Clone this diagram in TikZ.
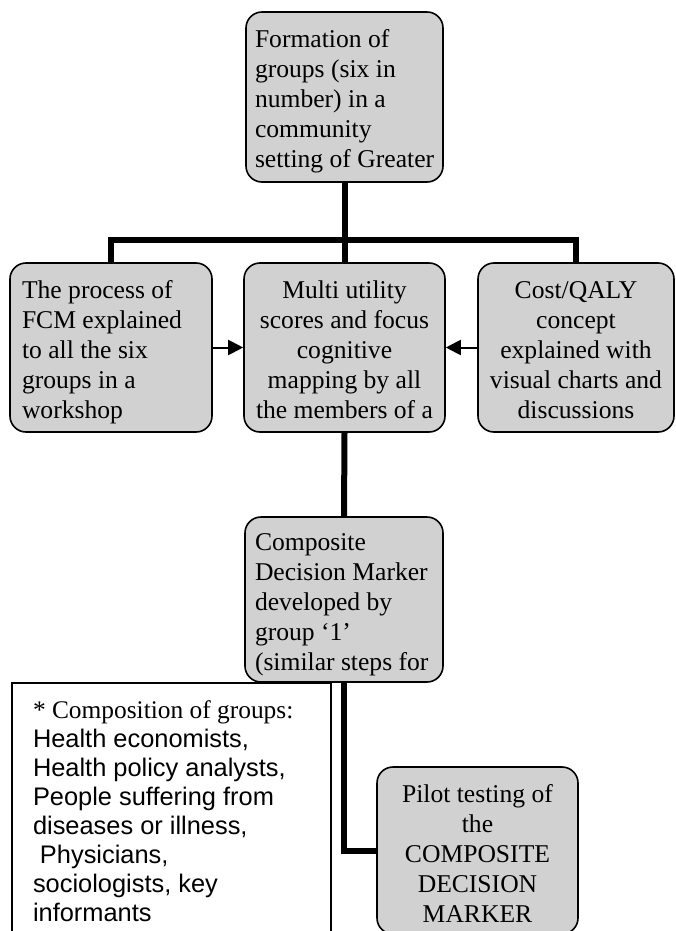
\documentclass[tikz,border=0pt]{standalone}
\usepackage{fontspec}
\setmainfont{Liberation Serif}
\newfontfamily\arialfont{Liberation Sans}
\usetikzlibrary{arrows.meta}
\definecolor{boxgray}{gray}{0.82}
\newcommand\btext[4]{\parbox[c][#1][t]{#2}{#3#4}}
\newcommand\lft[2]{\leftskip=#1\rightskip=0pt plus 1fil\relax\rule{0pt}{#2}}
\newcommand\ctr[1]{\centering\rule{0pt}{#1}}
\begin{document}
\begin{tikzpicture}[x=1pt,y=-1pt,
  stage/.style={draw=black, line width=1.6pt, rounded corners=16pt, fill=boxgray, inner sep=0pt, font=\fontsize{25.6}{30}\selectfont},
  conn/.style={line width=6pt},
  feed/.style={line width=2pt, -{Triangle[length=15pt,width=15pt]}},
  notebox/.style={draw=black, line width=1.6pt, fill=white, inner sep=0pt, font=\fontsize{25.4}{29.1}\selectfont}]
\useasboundingbox (0,0) rectangle (675,931);

\node[stage] (top) at (344.5,97) {\btext{170pt}{197pt}{\lft{9pt}{36pt}}{Formation of\\groups (six in\\number) in a\\community\\setting of Greater}};

\node[stage] (left) at (111,347.5) {\btext{169pt}{202pt}{\lft{12pt}{35pt}}{The process of\\FCM explained\\to all the six\\groups in a\\workshop}};

\node[stage] (mid) at (344.5,347.5) {\btext{169pt}{201pt}{\ctr{35pt}}{Multi utility\\scores and focus\\cognitive\\mapping by all\\the members of a}};

\node[stage] (right) at (576,347.5) {\btext{169pt}{196pt}{\ctr{35pt}}{Cost/QALY\\concept\\explained with\\visual charts and\\discussions}};

\node[stage] (comp) at (344,599.5) {\btext{165pt}{198pt}{\lft{10pt}{33pt}}{Composite\\Decision Marker\\developed by\\group ‘1’\\(similar steps for}};

\node[stage] (pilot) at (477.5,850.5) {\btext{167pt}{201pt}{\ctr{35pt}}{Pilot testing of\\the\\COMPOSITE\\DECISION\\MARKER}};

\node[notebox] (note) at (171.5,821.5) {\btext{277pt}{319pt}{\lft{21pt}{35pt}}{* Composition of groups:\\\arialfont Health economists,\\Health policy analysts,\\People suffering from\\diseases or illness,\\\hspace*{7pt}Physicians,\\sociologists, key\\informants}};

\coordinate (bar) at (344.5,240);
\draw[conn] (top.south) -- (mid.north);
\draw[conn] (left.north) |- (bar) -| (right.north);
\draw[feed] (left.east) -- (mid.west);
\draw[feed] (right.west) -- (mid.east);
\draw[conn] (mid.south) -- (comp.north);
\draw[conn] (comp.south) |- (pilot.west);
\end{tikzpicture}
\end{document}
